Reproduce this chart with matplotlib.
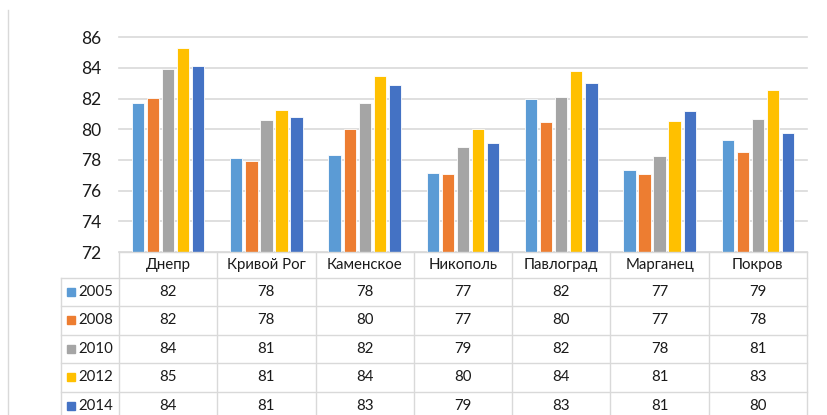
import matplotlib
matplotlib.use('Agg')
import matplotlib.pyplot as plt
from matplotlib.lines import Line2D
import numpy as np

plt.rcParams['font.family'] = ['Lato', 'DejaVu Sans']

cities = ['Днепр', 'Кривой Рог', 'Каменское', 'Никополь', 'Павлоград', 'Марганец', 'Покров']
years = ['2005', '2008', '2010', '2012', '2014']
v2005 = [81.7, 78.1, 78.3, 77.15, 81.95, 77.35, 79.3]
v2008 = [82.05, 77.95, 80.0, 77.1, 80.45, 77.1, 78.5]
v2010 = [83.95, 80.6, 81.7, 78.85, 82.1, 78.25, 80.7]
v2012 = [85.3, 81.25, 83.5, 80.05, 83.8, 80.52, 82.55]
v2014 = [84.15, 80.8, 82.9, 79.1, 83.0, 81.2, 79.75]
series = [v2005, v2008, v2010, v2012, v2014]
colors = ['#5B9BD5', '#ED7D31', '#A5A5A5', '#FFC000', '#4472C4']

W, H = 828, 415
fig = plt.figure(figsize=(W / 100, H / 100), dpi=100)
grid_c = '#D9D9D9'
txt_c = '#1a1a1a'

# bar chart
ax = fig.add_axes([119 / W, 1 - 252 / H, 688 / W, 214.7 / H])
x = np.arange(len(cities)) + 0.5
step = 0.153
for i, vals in enumerate(series):
    ax.bar(x + (i - 2) * step, vals, width=0.125, color=colors[i],
           edgecolor='white', linewidth=0.6, zorder=3)
ax.set_xlim(0, len(cities))
ax.set_ylim(72, 86)
ax.set_yticks(range(72, 87, 2))
ax.set_xticks([])
ax.grid(axis='y', color=grid_c, linewidth=1.2, zorder=0)
for gl in ax.get_ygridlines():
    gl.set_clip_on(False)
for s in ax.spines.values():
    s.set_visible(False)
ax.tick_params(axis='y', length=0, pad=13, labelsize=12.5, labelcolor=txt_c)

# data table
tax = fig.add_axes([61 / W, 0, (807 - 61) / W, 163 / H])
lab_w = 0.59
tax.set_xlim(-lab_w, len(cities))
tax.set_ylim(163, 0)
tax.axis('off')
hdr = 25.7
rh = 28.45
bottom = 175
lk = dict(color=grid_c, linewidth=1.0, clip_on=False)
tax.plot([0, len(cities)], [0, 0], **lk)
for k in range(len(years) + 1):
    yb = hdr + k * rh
    tax.plot([-lab_w, len(cities)], [yb, yb], **lk)
for j in range(len(cities) + 1):
    tax.plot([j, j], [0, bottom], **lk)
tax.plot([-lab_w, -lab_w], [hdr, bottom], **lk)

fs = 10.8
for j, c in enumerate(cities):
    tax.text(j + 0.5, hdr / 2 + 0.5, c, ha='center', va='center', fontsize=fs, color=txt_c)
for k, (yr, vals) in enumerate(zip(years, series)):
    yc = hdr + (k + 0.5) * rh
    tax.plot([0.1 - lab_w], [yc], marker='s', markersize=6, color=colors[k], clip_on=False)
    tax.text(0.18 - lab_w, yc, yr, ha='left', va='center', fontsize=fs, color=txt_c)
    for j, v in enumerate(vals):
        tax.text(j + 0.5, yc, format(v, '.0f'), ha='center', va='center', fontsize=fs, color=txt_c)

# chart area border on the left
fig.add_artist(Line2D([8 / W, 8 / W], [1 - 10 / H, 0], transform=fig.transFigure,
                      color=grid_c, linewidth=1.0))

fig.savefig('out.png', dpi=100, facecolor='white')
